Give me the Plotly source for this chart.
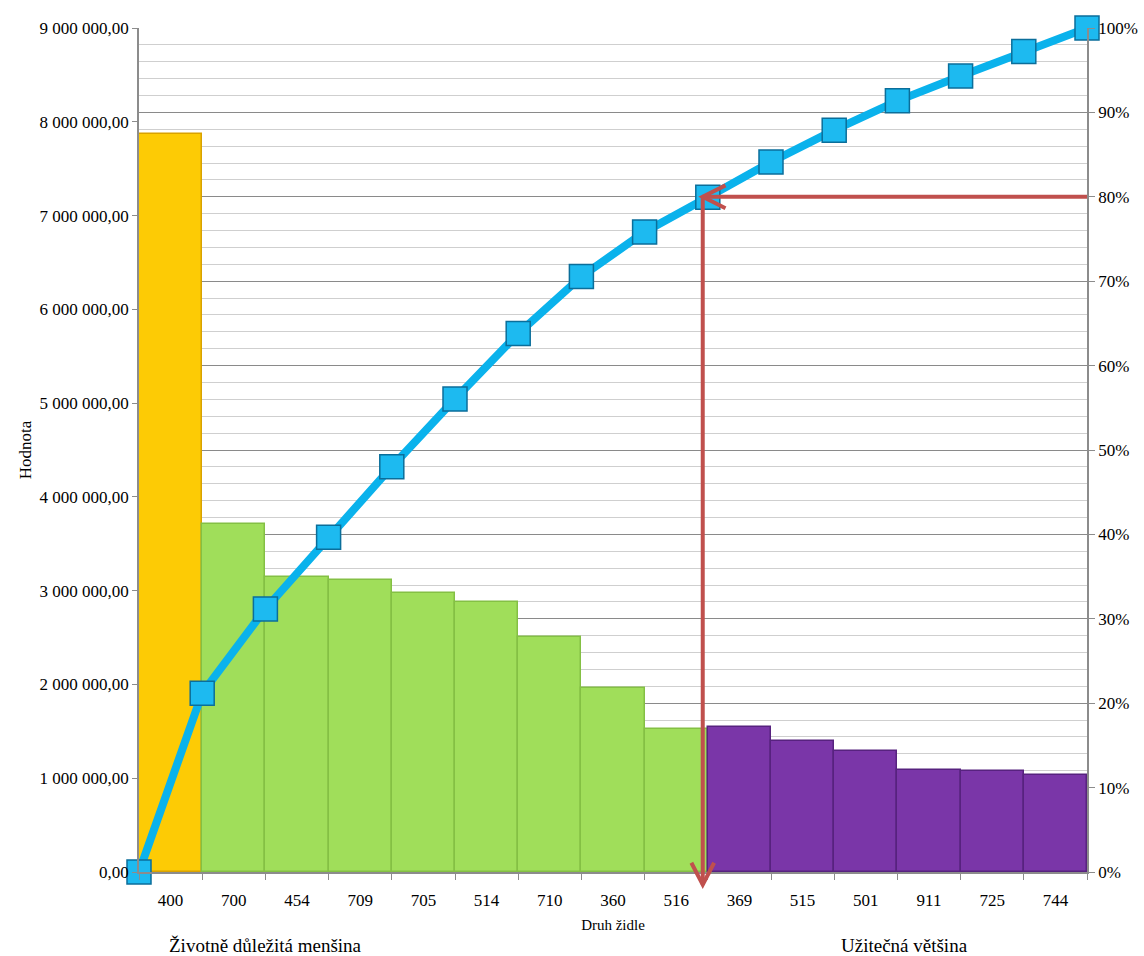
import numpy as np
import plotly.graph_objects as go

# Chair types, ordered by value (Pareto order)
categories = ["400", "700", "454", "709", "705", "514", "710", "360", "516",
              "369", "515", "501", "911", "725", "744"]
values = [7870000, 3708000, 3149000, 3110000, 2978000, 2879000, 2509000,
          1962000, 1530000, 1549000, 1400000, 1293000, 1091000, 1080000, 1034000]
# Group membership of each chair type
groups = ["lead"] + ["vital"] * 8 + ["useful"] * 6

left_ticks = [0, 1000000, 2000000, 3000000, 4000000, 5000000,
              6000000, 7000000, 8000000, 9000000]
right_ticks = [0, 10, 20, 30, 40, 50, 60, 70, 80, 90, 100]
right_labels = [f"{t}%" for t in right_ticks]
threshold_pct = 80

group_fill = {"lead": "#FDCB05", "vital": "#A0DE5A", "useful": "#7A36A8"}
group_edge = {"lead": "#D9A200", "vital": "#84C044", "useful": "#57227F"}

n = len(values)
x_centers = np.arange(n) + 0.5
x_bounds = np.arange(n + 1)
cum_pct = np.concatenate([[0.0], np.cumsum(values)]) / np.sum(values) * 100

# Category boundary where the cumulative share is closest to the threshold
cut_idx = int(np.argmin(np.abs(cum_pct - threshold_pct)))
cut_x = cut_idx - 0.08

SERIF = "Liberation Serif"
AXIS_GREY = "#8C8C8C"
RED = "#C0504D"

fig = go.Figure()

fig.add_trace(go.Bar(
    x=x_centers, y=values, width=1.0,
    marker=dict(color=[group_fill[g] for g in groups],
                line=dict(color=[group_edge[g] for g in groups], width=1.5)),
    hovertext=categories, showlegend=False,
))

fig.add_trace(go.Scatter(
    x=x_bounds, y=cum_pct, yaxis="y2", mode="lines+markers",
    line=dict(color="#0AB2EC", width=8),
    marker=dict(symbol="square", size=24, color="#1DBAF0",
                line=dict(color="#0B6E9A", width=1.5)),
    cliponaxis=False, showlegend=False,
))

# Threshold arrows: from the right axis to the curve, then down to the category axis.
# The secondary axis spans the full plot height, so paper y equals pct / 100.
ty = threshold_pct / 100
shapes = [
    dict(type="line", xref="x", yref="paper", x0=n, x1=cut_x,
         y0=ty, y1=ty, line=dict(color=RED, width=4)),
    dict(type="path", xref="x", yref="paper",
         path=f"M {cut_x + 0.36} {ty + 0.0135} L {cut_x} {ty} "
              f"L {cut_x + 0.36} {ty - 0.0135}",
         line=dict(color=RED, width=4)),
    dict(type="line", xref="x", yref="paper", x0=cut_x, x1=cut_x,
         y0=ty, y1=-0.015, line=dict(color=RED, width=4)),
    dict(type="path", xref="x", yref="paper",
         path=f"M {cut_x - 0.18} 0.011 L {cut_x} -0.015 L {cut_x + 0.18} 0.011",
         line=dict(color=RED, width=4)),
]

fig.update_layout(
    width=1144, height=956,
    margin=dict(l=139, r=57, t=28, b=84),
    paper_bgcolor="white", plot_bgcolor="white",
    separators=", ",
    font=dict(family=SERIF, size=17, color="#000000"),
    bargap=0,
    shapes=shapes,
    xaxis=dict(
        range=[0, n], tickvals=x_centers, ticktext=categories,
        ticks="", showgrid=False, zeroline=False, automargin=False,
        showline=True, linecolor=AXIS_GREY, linewidth=1.5,
        minor=dict(tickvals=list(x_bounds), ticks="outside", ticklen=6,
                   tickcolor=AXIS_GREY, showgrid=False),
        tickfont=dict(size=17), ticklabelstandoff=12,
        title=dict(text="Druh židle", font=dict(size=15), standoff=10),
    ),
    yaxis=dict(
        range=[0, 9000000], tickvals=left_ticks, tickformat=",.2f",
        ticks="outside", ticklen=5, tickcolor=AXIS_GREY,
        showgrid=False, zeroline=False, automargin=False,
        showline=True, linecolor=AXIS_GREY, linewidth=1.5,
        tickfont=dict(size=17),
        title=dict(text="Hodnota", font=dict(size=17), standoff=4),
    ),
    yaxis2=dict(
        overlaying="y", side="right",
        range=[0, 100], tickvals=right_ticks, ticktext=right_labels,
        ticks="outside", ticklen=6, tickcolor=AXIS_GREY, automargin=False,
        showgrid=True, gridcolor="#8A8A8A", gridwidth=1,
        minor=dict(dtick=2, showgrid=True, gridcolor="#CFCFCF", gridwidth=1),
        zeroline=False,
        showline=True, linecolor=AXIS_GREY, linewidth=1.5,
        tickfont=dict(size=17),
    ),
    annotations=[
        dict(text="Životně důležitá menšina", xref="paper", yref="paper",
             x=0.133, y=-0.087, xanchor="center", yanchor="middle",
             showarrow=False, font=dict(size=19)),
        dict(text="Užitečná většina", xref="paper", yref="paper",
             x=0.808, y=-0.087, xanchor="center", yanchor="middle",
             showarrow=False, font=dict(size=19)),
    ],
)

fig.write_html("out.html")
